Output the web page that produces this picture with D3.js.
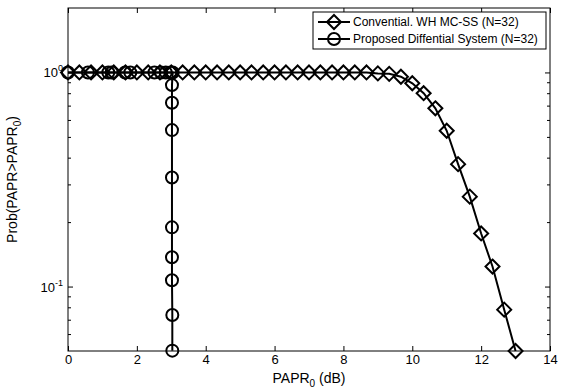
<!DOCTYPE html>
<html>
<head>
<meta charset="utf-8">
<script src="https://cdn.jsdelivr.net/npm/d3@7.9.0/dist/d3.min.js"></script>
<style>
  body { margin: 0; background: #fff; }
  svg { display: block; }
  text { font-family: "Liberation Sans", Arial, Helvetica, sans-serif; fill: #000; }
</style>
</head>
<body>
<svg id="chart" width="585" height="391"></svg>
<script>
// data
const convX = [0, 0.33, 0.67, 1, 1.33, 1.67, 2, 2.33, 2.67, 3, 3.33, 3.67, 4, 4.33, 4.67, 5, 5.33, 5.67, 6, 6.33,
  6.67, 7, 7.33, 7.67, 8, 8.33, 8.67, 9, 9.33, 9.67, 10, 10.33, 10.67, 11, 11.33, 11.67, 12, 12.33, 12.67, 13];
const convY = [1, 1, 1, 1, 1, 1, 1, 1, 1, 1, 1, 1, 1, 1, 1, 1, 1, 1, 1, 1,
  1, 1, 1, 1, 1, 1, 1, 0.99, 0.985, 0.955, 0.89, 0.80, 0.68, 0.534, 0.373, 0.263, 0.177, 0.124, 0.078, 0.05];

const propX = [0, 0.58, 1.17, 1.27, 1.66, 1.81, 2.51, 2.7, 2.84, 2.98, 3.04, 3.02, 3.02, 3.02, 3.02, 3.02, 3.02, 3.02, 3.03, 3.03];
const propY = [1, 1, 1, 1, 1, 1, 1, 1, 1, 1, 1, 0.873, 0.722, 0.538, 0.323, 0.189, 0.137, 0.107, 0.0736, 0.0502];

const xTicks = [0, 2, 4, 6, 8, 10, 12, 14];
const yMajor = [0.1, 1];
const yMinor = [0.06, 0.07, 0.08, 0.09, 0.2, 0.3, 0.4, 0.5, 0.6, 0.7, 0.8, 0.9];
const seriesNames = ["Convential. WH MC-SS (N=32)", "Proposed Diffential System (N=32)"];

const svg = d3.select('#chart');
const m = {left: 68, right: 550, top: 8, bottom: 351};
const fs = 13;

const x = d3.scaleLinear().domain([0, 14]).range([m.left, m.right]);
const y = d3.scaleLog().domain([0.05, 2]).range([m.bottom, m.top]);

const plot = svg.append('g');

// axes, ticks point inward like matlab
function styleAxis(g) {
  g.select('.domain').remove();
  g.selectAll('line').attr('stroke', '#000').attr('stroke-width', 1);
  g.selectAll('text').attr('font-size', fs).attr('fill', '#000');
}
svg.append('g').attr('transform', `translate(0,${m.bottom})`)
  .call(d3.axisBottom(x).tickValues(xTicks).tickSize(-5).tickPadding(4).tickFormat(d3.format('d')))
  .call(styleAxis);
svg.append('g').attr('transform', `translate(0,${m.top})`)
  .call(d3.axisTop(x).tickValues(xTicks).tickSize(-5).tickFormat(''))
  .call(styleAxis);
svg.append('g').attr('transform', `translate(${m.left},0)`)
  .call(d3.axisLeft(y).tickValues(yMajor).tickSize(-5).tickFormat(''))
  .call(styleAxis);
svg.append('g').attr('transform', `translate(${m.left},0)`)
  .call(d3.axisLeft(y).tickValues(yMinor).tickSize(-3).tickFormat(''))
  .call(styleAxis);
svg.append('g').attr('transform', `translate(${m.right},0)`)
  .call(d3.axisRight(y).tickValues(yMajor).tickSize(-5).tickFormat(''))
  .call(styleAxis);
svg.append('g').attr('transform', `translate(${m.right},0)`)
  .call(d3.axisRight(y).tickValues(yMinor).tickSize(-3).tickFormat(''))
  .call(styleAxis);

// y labels 10^0, 10^-1
yMajor.forEach(v => {
  const t = svg.append('text')
    .attr('x', m.left - 5).attr('y', y(v) + 5)
    .attr('text-anchor', 'end').attr('font-size', fs);
  t.append('tspan').text('10');
  t.append('tspan').attr('dy', -6).attr('font-size', 9).text(v === 1 ? '0' : '-1');
});

// series
const lineGen = d3.line().x(d => x(d[0])).y(d => y(d[1]));
const conv = convX.map((v, i) => [v, convY[i]]);
const prop = propX.map((v, i) => [v, propY[i]]);

plot.append('path').datum(conv).attr('d', lineGen)
  .attr('fill', 'none').attr('stroke', '#000').attr('stroke-width', 2);
plot.append('path').datum(prop).attr('d', lineGen)
  .attr('fill', 'none').attr('stroke', '#000').attr('stroke-width', 2);

const dia = 'M0,-7L7,0L0,7L-7,0Z';
plot.selectAll('.dia').data(conv).enter().append('path')
  .attr('transform', d => `translate(${x(d[0])},${y(d[1])})`)
  .attr('d', dia)
  .attr('fill', 'none').attr('stroke', '#000').attr('stroke-width', 2);
plot.selectAll('.circ').data(prop).enter().append('circle')
  .attr('cx', d => x(d[0])).attr('cy', d => y(d[1])).attr('r', 6)
  .attr('fill', 'none').attr('stroke', '#000').attr('stroke-width', 2);

// frame
svg.append('rect').attr('x', m.left).attr('y', m.top)
  .attr('width', m.right - m.left).attr('height', m.bottom - m.top)
  .attr('fill', 'none').attr('stroke', '#000').attr('stroke-width', 1);

// axis titles
const xl = svg.append('text').attr('x', (m.left + m.right) / 2).attr('y', 383)
  .attr('text-anchor', 'middle').attr('font-size', 14);
xl.append('tspan').text('PAPR');
xl.append('tspan').attr('dy', 4).attr('font-size', 10).text('0');
xl.append('tspan').attr('dy', -4).text(' (dB)');

const yl = svg.append('text').attr('transform', `translate(17,${(m.top + m.bottom) / 2}) rotate(-90)`)
  .attr('text-anchor', 'middle').attr('font-size', 14);
yl.append('tspan').text('Prob(PAPR>PAPR');
yl.append('tspan').attr('dy', 4).attr('font-size', 10).text('0');
yl.append('tspan').attr('dy', -4).text(')');

// legend
const lg = svg.append('g');
lg.append('rect').attr('x', 313).attr('y', 12).attr('width', 233).attr('height', 37)
  .attr('fill', '#fff').attr('stroke', '#000').attr('stroke-width', 1);
seriesNames.forEach((name, i) => {
  const cy = 22 + i * 17;
  lg.append('line').attr('x1', 318).attr('x2', 350).attr('y1', cy).attr('y2', cy)
    .attr('stroke', '#000').attr('stroke-width', 2);
  if (i === 0) {
    lg.append('path').attr('transform', `translate(334,${cy})`).attr('d', dia)
      .attr('fill', 'none').attr('stroke', '#000').attr('stroke-width', 2);
  } else {
    lg.append('circle').attr('cx', 334).attr('cy', cy).attr('r', 6)
      .attr('fill', 'none').attr('stroke', '#000').attr('stroke-width', 2);
  }
  lg.append('text').attr('x', 353).attr('y', cy + 4).attr('font-size', 12).text(name);
});
</script>
</body>
</html>
